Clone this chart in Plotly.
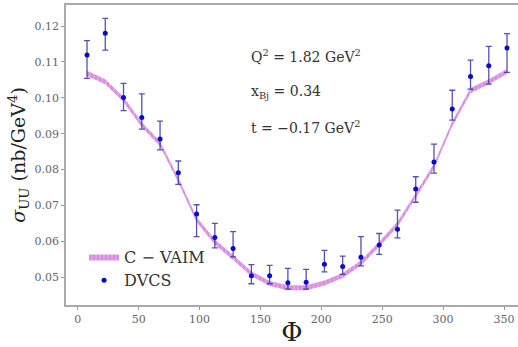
import plotly.graph_objects as go

# ---- data ----
phi = [7.5, 22.5, 37.5, 52.5, 67.5, 82.5, 97.5, 112.5, 127.5, 142.5, 157.5, 172.5,
       187.5, 202.5, 217.5, 232.5, 247.5, 262.5, 277.5, 292.5, 307.5, 322.5, 337.5, 352.5]
dvcs = [0.1119, 0.1180, 0.1001, 0.0945, 0.0885, 0.0791, 0.0676, 0.0611, 0.0580, 0.0504,
        0.0504, 0.0485, 0.0486, 0.0536, 0.0530, 0.0556, 0.0590, 0.0634, 0.0746, 0.0821,
        0.0969, 0.1059, 0.1089, 0.1139]
err_plus = [0.0040, 0.0041, 0.0039, 0.0066, 0.0050, 0.0033, 0.0026, 0.0039, 0.0047, 0.0031,
            0.0029, 0.0040, 0.0036, 0.0039, 0.0029, 0.0057, 0.0032, 0.0053, 0.0034, 0.0050,
            0.0052, 0.0046, 0.0054, 0.0040]
err_minus = [0.0065, 0.0047, 0.0037, 0.0032, 0.0030, 0.0032, 0.0063, 0.0029, 0.0023, 0.0022,
             0.0022, 0.0018, 0.0019, 0.0021, 0.0022, 0.0024, 0.0026, 0.0024, 0.0037, 0.0031,
             0.0031, 0.0035, 0.0051, 0.0068]
cvaim = [0.1068, 0.1045, 0.0995, 0.0925, 0.0872, 0.0771, 0.0660, 0.0598, 0.0555, 0.0510,
         0.0483, 0.0471, 0.0471, 0.0484, 0.0505, 0.0540, 0.0592, 0.0648, 0.0728, 0.0810,
         0.0928, 0.1020, 0.1045, 0.1073]
cvaim_halfwidth = 0.0007

x_ticks = [0, 50, 100, 150, 200, 250, 300, 350]
y_ticks = [0.05, 0.06, 0.07, 0.08, 0.09, 0.10, 0.11, 0.12]

upper = [v + cvaim_halfwidth for v in cvaim]
lower = [v - cvaim_halfwidth for v in cvaim]

SERIF = "DejaVu Serif"
band_color = "rgba(200,120,220,0.85)"

fig = go.Figure()
fig.add_trace(go.Scatter(x=phi, y=upper, mode="lines", line=dict(width=0, color=band_color),
                         showlegend=False, hoverinfo="skip"))
fig.add_trace(go.Scatter(x=phi, y=lower, mode="lines", line=dict(width=0, color=band_color),
                         fill="tonexty", fillcolor=band_color,
                         fillpattern=dict(shape="|", bgcolor="rgba(222,150,230,0.9)",
                                          fgcolor="rgba(190,100,210,1)", size=4, solidity=0.3),
                         name="C − VAIM"))
fig.add_trace(go.Scatter(x=phi, y=dvcs, mode="markers", name="DVCS",
                         marker=dict(color="#0a0acc", size=5),
                         error_y=dict(type="data", symmetric=False, array=err_plus,
                                      arrayminus=err_minus, color="rgba(40,40,160,0.8)",
                                      thickness=1.3, width=3)))

for txt, yy in [("Q<sup>2</sup> = 1.82 GeV<sup>2</sup>", 56),
                ("x<sub>Bj</sub> = 0.34", 92),
                ("t = −0.17 GeV<sup>2</sup>", 127)]:
    fig.add_annotation(xref="paper", yref="paper", x=(249 - 66) / 452, y=(305 - yy) / 300,
                       xanchor="left", yanchor="middle", showarrow=False, text=txt,
                       font=dict(family=SERIF, size=14, color="#333"))

axis_common = dict(showgrid=False, zeroline=False, showline=True, linecolor="#aaaaaa",
                   linewidth=1.5, ticks="outside", ticklen=3, tickcolor="#999",
                   tickfont=dict(family=SERIF, size=11, color="#666"))

fig.update_layout(
    width=518, height=347,
    margin=dict(l=66, r=0, t=5, b=42),
    paper_bgcolor="white", plot_bgcolor="white",
    font=dict(family=SERIF),
    showlegend=True,
    legend=dict(x=0.04, y=0.025, xanchor="left", yanchor="bottom", traceorder="normal",
                bgcolor="rgba(0,0,0,0)", font=dict(family=SERIF, size=16, color="#333"),
                tracegroupgap=0, itemwidth=30),
    xaxis=dict(range=[-9.75, 361.5], tickvals=x_ticks, mirror=True,
               title=dict(text="Φ", font=dict(family=SERIF, size=26, color="#222"), standoff=0),
               **axis_common),
    yaxis=dict(range=[0.04228, 0.12585], tickvals=y_ticks, tickformat=".2f",
               title=dict(text="<i>σ</i><sub>UU</sub> (nb/GeV<sup>4</sup>)",
                          font=dict(family=SERIF, size=19, color="#222"), standoff=4),
               **axis_common),
)

fig.write_html("out.html")
